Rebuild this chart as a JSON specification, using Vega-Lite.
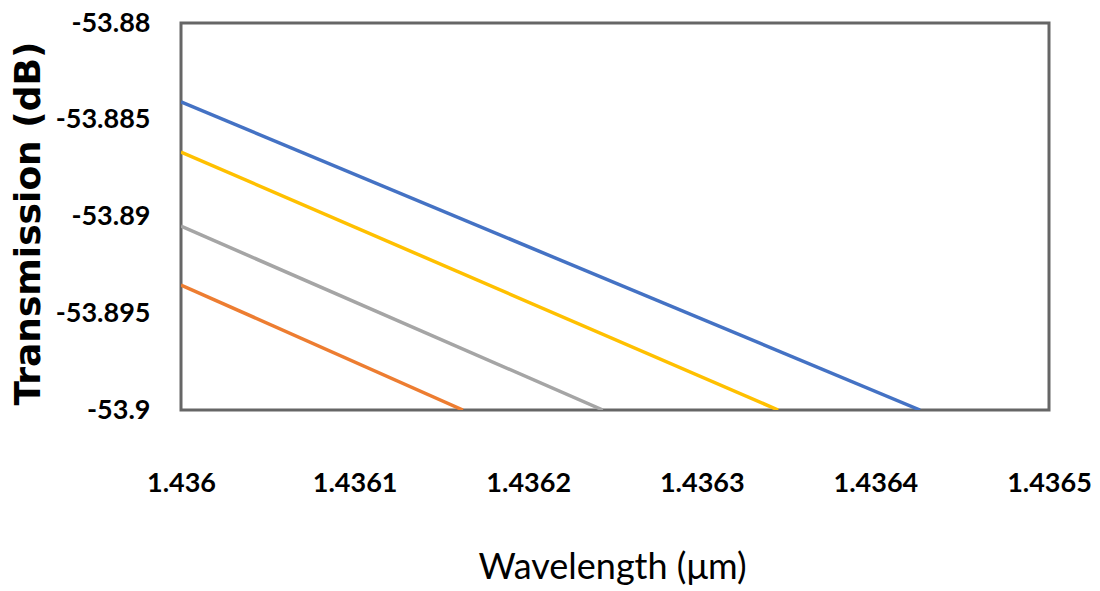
{
  "$schema": "https://vega.github.io/schema/vega-lite/v6.json",
  "width": 868,
  "height": 387,
  "autosize": "none",
  "padding": {"left": 181, "top": 23, "right": 51, "bottom": 181},
  "background": "white",
  "config": {
    "view": {"stroke": "#666666", "strokeWidth": 3},
    "axis": {"grid": false, "domain": false, "ticks": false}
  },
  "data": {
    "values": [
      {"series": "s1", "wavelength": 1.436, "transmission": -53.88408},
      {"series": "s1", "wavelength": 1.4364257, "transmission": -53.9},
      {"series": "s2", "wavelength": 1.436, "transmission": -53.88667},
      {"series": "s2", "wavelength": 1.436344, "transmission": -53.9},
      {"series": "s3", "wavelength": 1.436, "transmission": -53.8905},
      {"series": "s3", "wavelength": 1.436243, "transmission": -53.9},
      {"series": "s4", "wavelength": 1.436, "transmission": -53.89354},
      {"series": "s4", "wavelength": 1.4361624, "transmission": -53.9}
    ]
  },
  "mark": {"type": "line", "strokeWidth": 3.5, "clip": true},
  "encoding": {
    "x": {
      "field": "wavelength",
      "type": "quantitative",
      "scale": {"domain": [1.436, 1.4365], "nice": false, "zero": false},
      "axis": {
        "title": "Wavelength (μm)",
        "values": [1.436, 1.4361, 1.4362, 1.4363, 1.4364, 1.4365],
        "labelExpr": "'' + datum.value",
        "labelFlush": false,
        "labelFont": "Lato",
        "labelFontWeight": "bold",
        "labelFontSize": 27,
        "labelColor": "#000000",
        "labelPadding": 60,
        "titleFont": "Lato",
        "titleFontWeight": "normal",
        "titleFontSize": 36,
        "titleColor": "#000000",
        "titleX": 431,
        "titleY": 157,
        "titleBaseline": "middle",
        "titleAlign": "center"
      }
    },
    "y": {
      "field": "transmission",
      "type": "quantitative",
      "scale": {"domain": [-53.9, -53.88], "nice": false, "zero": false},
      "axis": {
        "title": "Transmission (dB)",
        "values": [-53.9, -53.895, -53.89, -53.885, -53.88],
        "labelExpr": "'' + datum.value",
        "labelFont": "Lato",
        "labelFontWeight": "bold",
        "labelFontSize": 27,
        "labelColor": "#000000",
        "labelPadding": 31,
        "titleFont": "DejaVu Sans",
        "titleFontWeight": "bold",
        "titleFontSize": 36,
        "titleColor": "#000000",
        "titleX": -153,
        "titleY": 200,
        "titleAngle": -90,
        "titleBaseline": "middle",
        "titleAlign": "center"
      }
    },
    "color": {
      "field": "series",
      "type": "nominal",
      "scale": {"domain": ["s1", "s2", "s3", "s4"], "range": ["#4472C4", "#FFC000", "#A5A5A5", "#ED7D31"]},
      "legend": null
    }
  }
}
